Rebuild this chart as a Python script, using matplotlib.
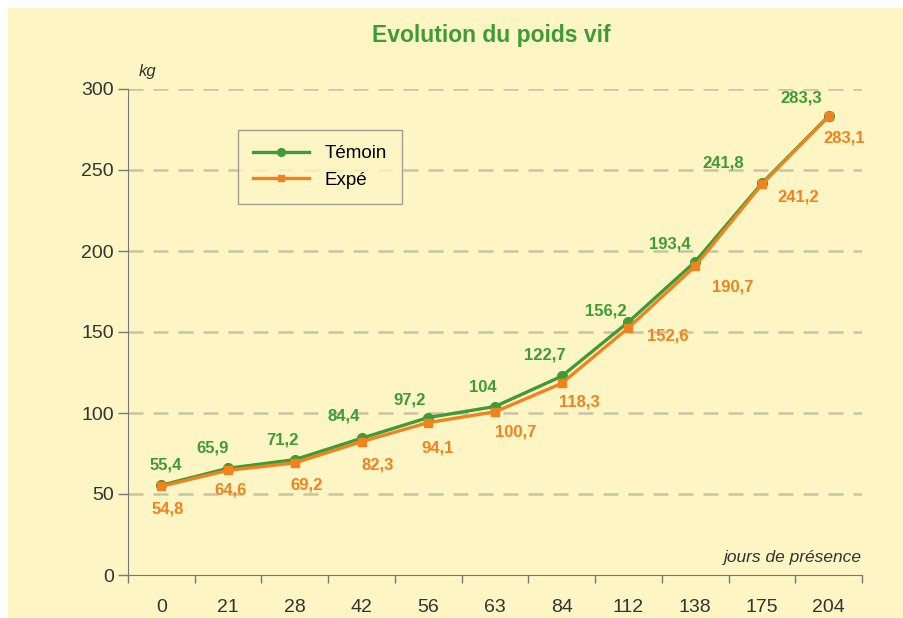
import numpy as np
import matplotlib.pyplot as plt
from matplotlib.patches import Rectangle

jours = ["0", "21", "28", "42", "56", "63", "84", "112", "138", "175", "204"]
temoin = [55.4, 65.9, 71.2, 84.4, 97.2, 104, 122.7, 156.2, 193.4, 241.8, 283.3]
expe = [54.8, 64.6, 69.2, 82.3, 94.1, 100.7, 118.3, 152.6, 190.7, 241.2, 283.1]
temoin_txt = ["55,4", "65,9", "71,2", "84,4", "97,2", "104", "122,7", "156,2", "193,4", "241,8", "283,3"]
expe_txt = ["54,8", "64,6", "69,2", "82,3", "94,1", "100,7", "118,3", "152,6", "190,7", "241,2", "283,1"]

# label offsets in pixels (dx, dy) relative to the point
off_t = [(4, 20), (-16, 20), (-12, 20), (-18, 22), (-19, 18), (-12, 19), (-17, 21), (-23, 11), (-25, 18), (-39, 20), (-27, 18)]
off_e = [(6, -23), (2, -20), (12, -22), (16, -23), (9, -25), (21, -20), (18, -19), (39, -8), (38, -21), (36, -13), (16, -22)]

green = "#3f9b35"
orange = "#f08220"
bg = "#fdf6c4"
gridc = "#c9c4a2"

fig = plt.figure(figsize=(9.04, 6.18), dpi=100)
fig.patch.set_facecolor("white")
fig.patches.append(Rectangle((8 / 904, 0), 1, 1 - 8 / 618, transform=fig.transFigure,
                             facecolor=bg, edgecolor="none", zorder=-10))

ax = fig.add_axes([128 / 904, 1 - 575 / 618, 734 / 904, 486 / 618])
ax.set_facecolor("none")
x = np.arange(len(jours))

ax.plot(x, temoin, color=green, lw=2.4, marker="o", ms=7, label="Témoin", zorder=3)
ax.plot(x, expe, color=orange, lw=2.4, marker="s", ms=6, label="Expé", zorder=4)

for i in range(len(x)):
    ax.annotate(temoin_txt[i], (x[i], temoin[i]), xytext=(off_t[i][0] * 0.72, off_t[i][1] * 0.72),
                textcoords="offset points", ha="center", va="center", color=green,
                fontsize=12, fontweight="bold", family="Liberation Sans")
    ax.annotate(expe_txt[i], (x[i], expe[i]), xytext=(off_e[i][0] * 0.72, off_e[i][1] * 0.72),
                textcoords="offset points", ha="center", va="center", color=orange,
                fontsize=12, fontweight="bold", family="Liberation Sans")

ax.set_xlim(-0.5, 10.5)
ax.set_ylim(0, 300)
ax.set_yticks(np.arange(0, 301, 50))
ax.set_xticks(x)
ax.set_xticklabels(jours)
ax.set_xticks(np.arange(-0.5, 10.6, 1), minor=True)
ax.tick_params(axis="x", which="major", length=0, pad=17, labelsize=14, labelcolor="#333333")
ax.tick_params(axis="x", which="minor", length=6, color="#777777", width=1)
ax.tick_params(axis="y", length=7, color="#777777", width=1, labelsize=14, labelcolor="#333333", pad=3)
for lab in ax.get_xticklabels() + ax.get_yticklabels():
    lab.set_family("Liberation Sans")

for s in ["top", "right"]:
    ax.spines[s].set_visible(False)
ax.spines["left"].set_color("#777777")
ax.spines["bottom"].set_color("#777777")

for v in range(50, 301, 50):
    ax.axhline(v, color=gridc, lw=1.8, dashes=(6, 4), zorder=1)

ax.text(0.015, 1.02, "kg", transform=ax.transAxes, style="italic", fontsize=12,
        family="Liberation Sans", color="#333333", va="bottom")
ax.text(1.0, 0.02, "jours de présence", transform=ax.transAxes, style="italic", fontsize=12.5,
        family="Liberation Sans", color="#333333", ha="right", va="bottom")

fig.text(0.543, 0.943, "Evolution du poids vif", color=green, fontsize=16.5, fontweight="bold",
         ha="center", va="center", family="Liberation Sans")

leg = ax.legend(loc="upper left", bbox_to_anchor=(0.137, 0.935), frameon=True, fancybox=False,
                prop={"family": "Liberation Sans", "size": 13.5}, borderpad=0.8,
                handlelength=3, labelspacing=0.5, markerscale=0.8)
leg.get_frame().set_facecolor(bg)
leg.get_frame().set_edgecolor("#888888")
leg.get_frame().set_linewidth(1)

fig.savefig("out.png", dpi=100, facecolor=fig.get_facecolor())
